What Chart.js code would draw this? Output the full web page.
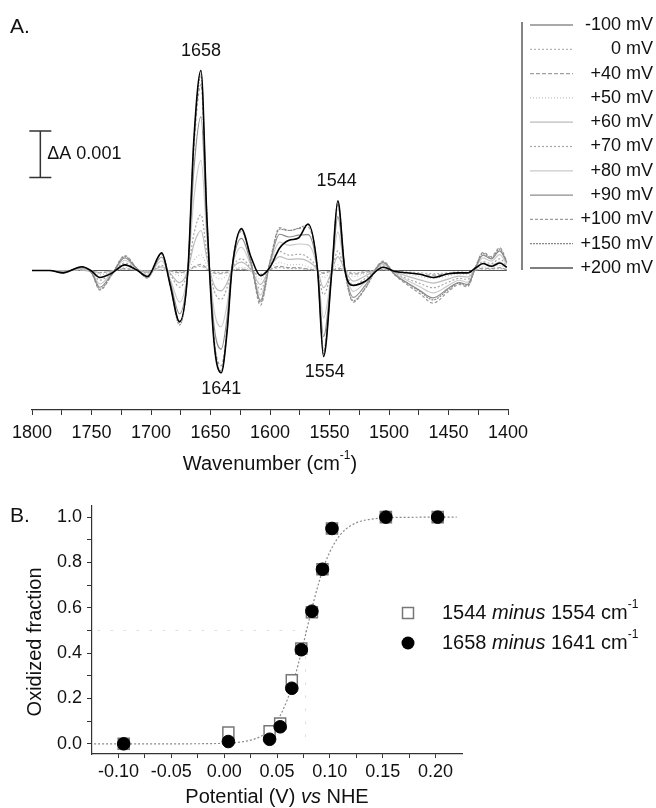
<!DOCTYPE html>
<html>
<head>
<meta charset="utf-8">
<title>Redox titration FTIR</title>
<script src="https://cdn.jsdelivr.net/npm/chart.js@4.4.1/dist/chart.umd.min.js"></script>
<style>
  body { margin: 0; background: #fff; }
  #page { position: relative; width: 656px; height: 808px; }
  #page canvas { position: absolute; left: 0; }
</style>
</head>
<body>
<div id="page">
  <canvas id="spectra" width="656" height="480" style="top:0;width:656px;height:480px"></canvas>
  <canvas id="titration" width="656" height="318" style="top:490px;width:656px;height:318px"></canvas>
</div>
<script>
// ---- Panel A: redox difference spectra, ΔA in units of 0.001 ----
const wavenumbers = [1800, 1785, 1774, 1758, 1750, 1743, 1733, 1722, 1712, 1703,
                     1691, 1684, 1676, 1669, 1664, 1658, 1653, 1647, 1641, 1636,
                     1632, 1624, 1616, 1608, 1600, 1592, 1584, 1576, 1568, 1560,
                     1555, 1548, 1543, 1537, 1530, 1520, 1505, 1495, 1485, 1474,
                     1463, 1450, 1441, 1434, 1427, 1421, 1414, 1407, 1401];
const potentialLabels = ['-100 mV', '0 mV', '+40 mV', '+50 mV', '+60 mV', '+70 mV',
                         '+80 mV', '+90 mV', '+100 mV', '+150 mV', '+200 mV'];

const dA_m100 = [0, 0, 0, 0, 0, 0, 0, 0, 0, 0,
                 0, 0, 0, 0, 0, 0, 0, 0, 0, 0,
                 0, 0, 0, 0, 0, 0, 0, 0, 0, 0,
                 0, 0, 0, 0, 0, 0, 0, 0, 0, 0,
                 0, 0, 0, 0, 0, 0, 0, 0, 0];
const dA_0 = [0, 0, 0, 0, -0.01, -0.04, -0.01, 0.03, 0.01, -0.01,
              0.01, -0.01, -0.03, 0, 0.06, 0.09, 0.03, -0.03, -0.04, -0.03,
              0.01, 0.02, 0, -0.08, 0.02, 0.06, 0.04, 0.04, 0.02, 0,
              -0.04, 0, 0.03, 0, -0.05, -0.02, 0.02, -0.01, -0.03, -0.05,
              -0.07, -0.05, -0.03, -0.04, 0.01, 0.03, 0.03, 0.04, 0.02];
const dA_40 = [0, 0, 0, 0, -0.01, -0.05, -0.01, 0.04, 0.01, -0.01,
               0.01, -0.01, -0.05, 0, 0.08, 0.13, 0.05, -0.05, -0.07, -0.04,
               0.01, 0.03, -0.01, -0.11, 0.02, 0.09, 0.06, 0.06, 0.03, 0,
               -0.06, 0, 0.05, 0, -0.08, -0.04, 0.02, -0.02, -0.05, -0.08,
               -0.1, -0.07, -0.05, -0.05, 0.01, 0.05, 0.04, 0.06, 0.02];
const dA_50 = [0, 0, 0, 0.01, -0.01, -0.09, -0.02, 0.07, 0.01, -0.02,
               0.03, -0.02, -0.11, 0, 0.22, 0.34, 0.11, -0.12, -0.18, -0.1,
               0.01, 0.07, 0, -0.19, 0.04, 0.17, 0.12, 0.13, 0.08, 0,
               -0.15, 0, 0.12, 0, -0.13, -0.07, 0.04, -0.03, -0.08, -0.13,
               -0.17, -0.11, -0.08, -0.09, 0.02, 0.08, 0.07, 0.11, 0.04];
const dA_60 = [0, 0, -0.01, 0.02, -0.02, -0.15, -0.03, 0.12, 0.02, -0.04,
               0.08, -0.06, -0.26, 0, 0.56, 0.86, 0.26, -0.31, -0.44, -0.26,
               0.02, 0.18, 0.02, -0.3, 0.07, 0.3, 0.24, 0.25, 0.2, 0,
               -0.37, 0, 0.3, 0, -0.23, -0.12, 0.07, -0.04, -0.12, -0.2,
               -0.27, -0.18, -0.12, -0.14, 0.03, 0.14, 0.11, 0.18, 0.07];
const dA_70 = [0, 0, -0.01, 0.02, -0.03, -0.21, -0.04, 0.16, 0.03, -0.06,
               0.11, -0.08, -0.36, 0, 0.78, 1.2, 0.36, -0.43, -0.62, -0.36,
               0.03, 0.25, 0.03, -0.41, 0.1, 0.41, 0.33, 0.35, 0.28, 0,
               -0.52, 0, 0.42, 0, -0.32, -0.17, 0.1, -0.06, -0.17, -0.28,
               -0.37, -0.25, -0.17, -0.19, 0.04, 0.19, 0.15, 0.25, 0.1];
const dA_80 = [0, 0, -0.03, 0.04, -0.04, -0.29, -0.06, 0.22, 0.04, -0.1,
               0.21, -0.17, -0.68, 0, 1.54, 2.37, 0.68, -0.85, -1.21, -0.72,
               0.04, 0.5, 0.1, -0.53, 0.13, 0.61, 0.54, 0.57, 0.55, 0,
               -1.02, 0, 0.83, 0, -0.45, -0.25, 0.13, -0.07, -0.21, -0.35,
               -0.48, -0.32, -0.21, -0.25, 0.06, 0.27, 0.2, 0.34, 0.13];
const dA_90 = [0, 0, -0.04, 0.06, -0.04, -0.36, -0.08, 0.27, 0.04, -0.13,
               0.29, -0.23, -0.93, 0, 2.16, 3.31, 0.93, -1.19, -1.69, -1.0,
               0.04, 0.69, 0.15, -0.64, 0.17, 0.78, 0.72, 0.76, 0.77, 0,
               -1.42, 0, 1.16, 0, -0.58, -0.32, 0.17, -0.09, -0.26, -0.43,
               -0.59, -0.38, -0.26, -0.3, 0.08, 0.33, 0.25, 0.42, 0.17];
const dA_100 = [0, 0, -0.05, 0.07, -0.05, -0.42, -0.1, 0.32, 0.05, -0.16,
                0.35, -0.28, -1.12, 0, 2.6, 4.0, 1.12, -1.44, -2.05, -1.21,
                0.05, 0.84, 0.18, -0.75, 0.2, 0.92, 0.86, 0.9, 0.93, 0,
                -1.72, 0, 1.4, 0, -0.68, -0.39, 0.2, -0.1, -0.3, -0.5,
                -0.7, -0.45, -0.3, -0.35, 0.1, 0.39, 0.3, 0.49, 0.2];
const dA_150 = [0, 0, -0.05, 0.08, -0.05, -0.4, -0.09, 0.3, 0.05, -0.16,
                0.37, -0.29, -1.17, 0, 2.74, 4.21, 1.17, -1.52, -2.16, -1.27,
                0.05, 0.88, 0.2, -0.68, 0.18, 0.89, 0.86, 0.91, 0.98, 0,
                -1.81, 0, 1.47, 0, -0.65, -0.38, 0.18, -0.09, -0.27, -0.45,
                -0.63, -0.41, -0.27, -0.32, 0.09, 0.37, 0.27, 0.46, 0.18];
const dA_200 = [0, 0, -0.05, 0.08, -0.01, -0.15, -0.06, 0.12, 0.01, -0.13,
                0.38, -0.3, -1.1, 0, 2.8, 4.3, 1.12, -1.55, -2.2, -1.3,
                0.01, 0.9, 0.29, -0.11, 0.07, 0.48, 0.65, 0.7, 1.0, 0,
                -1.85, 0, 1.5, 0, -0.32, -0.23, 0.07, -0.02, -0.05, -0.08,
                -0.15, -0.07, -0.05, -0.05, 0.06, 0.15, 0.09, 0.16, 0.07];

const peakLabels = [1658, 1641, 1554, 1544];
const scaleBarAt = 1793;          // cm-1
const scaleBarFrom = 2;           // x 0.001
const scaleBarSize = 1;           // = 0.001 absorbance
const wavenumberTicks = [1800, 1750, 1700, 1650, 1600, 1550, 1500, 1450, 1400];
const wavenumberMinorTicks = [1775, 1725, 1675, 1625, 1575, 1525, 1475, 1425];

// ---- Panel B: oxidized fraction vs potential ----
const potentialV = [-0.095, 0.004, 0.043, 0.053, 0.064, 0.073, 0.083, 0.093, 0.102, 0.153, 0.202];
const frac1658 = [0.0, 0.01, 0.02, 0.075, 0.245, 0.415, 0.585, 0.77, 0.95, 1.0, 1.0];
const frac1544 = [0.0, 0.05, 0.055, 0.09, 0.28, 0.42, 0.58, 0.77, 0.95, 1.0, 1.0];
const fitPotential = [-0.123, -0.05, 0, 0.02, 0.03, 0.04, 0.05, 0.055, 0.06, 0.065, 0.07, 0.075,
                      0.08, 0.085, 0.09, 0.095, 0.10, 0.11, 0.12, 0.13, 0.15, 0.17, 0.22];
const fitFraction = [0, 0, 0.002, 0.011, 0.023, 0.049, 0.10, 0.143, 0.198, 0.267, 0.349, 0.442,
                     0.539, 0.633, 0.718, 0.79, 0.847, 0.923, 0.963, 0.983, 0.996, 0.999, 1.0];
const midGuideX = [-0.12, 0.077, 0.077];
const midGuideY = [0.5, 0.5, 0];
const potentialTicks = [-0.10, -0.05, 0.00, 0.05, 0.10, 0.15, 0.20];
const potentialMinorTicks = [-0.075, -0.025, 0.025, 0.075, 0.125, 0.175];
const fractionTicks = [0.0, 0.2, 0.4, 0.6, 0.8, 1.0];
const fractionMinorTicks = [0.1, 0.3, 0.5, 0.7, 0.9];

// styles
const FONT = "'Liberation Sans', Arial, sans-serif";
const INK = '#111';
const spectra = [dA_m100, dA_0, dA_40, dA_50, dA_60, dA_70, dA_80, dA_90, dA_100, dA_150, dA_200];
const lineColors = ['#555', '#b4b4b4', '#a0a0a0', '#c4c4c4', '#bcbcbc', '#a6a6a6',
                    '#cacaca', '#8c8c8c', '#9c9c9c', '#888', '#000'];
const lineDashes = [[], [2, 2], [4, 2], [1, 2], [], [2, 2], [], [], [3, 2], [2, 1], []];

// draw a run of text pieces with their own fonts / vertical shift
function drawParts(ctx, parts, x, y, align) {
  let w = 0;
  parts.forEach(p => { ctx.font = p[1]; w += ctx.measureText(p[0]).width; });
  let cx = align === 'center' ? x - w / 2 : x;
  ctx.textAlign = 'left';
  parts.forEach(p => {
    ctx.font = p[1];
    ctx.fillText(p[0], cx, y + (p[2] || 0));
    cx += ctx.measureText(p[0]).width;
  });
}

function withTicks(major, minor) {
  return scale => {
    scale.ticks = major.concat(minor).sort((a, b) => a - b).map(v => ({ value: v }));
  };
}

const annotateSpectra = {
  id: 'annotateSpectra',
  afterDraw(chart) {
    const { ctx, scales: { x, y } } = chart;
    ctx.save();
    ctx.fillStyle = INK;
    ctx.strokeStyle = '#333';
    ctx.textBaseline = 'middle';

    ctx.font = `21px ${FONT}`;
    ctx.textAlign = 'left';
    ctx.fillText('A.', 10, 27);

    // peak positions
    ctx.font = `18px ${FONT}`;
    ctx.textAlign = 'center';
    peakLabels.forEach(wn => {
      let j = 0;
      wavenumbers.forEach((w, i) => { if (Math.abs(w - wn) < Math.abs(wavenumbers[j] - wn)) j = i; });
      const v = dA_200[j];
      const py = y.getPixelForValue(v);
      ctx.fillText(String(wn), x.getPixelForValue(wn), v > 0 ? py - 20 : py + 16);
    });

    // ΔA scale bar
    const bx = x.getPixelForValue(scaleBarAt);
    const b0 = y.getPixelForValue(scaleBarFrom);
    const b1 = y.getPixelForValue(scaleBarFrom + scaleBarSize);
    ctx.lineWidth = 1.5;
    ctx.beginPath();
    ctx.moveTo(bx, b0); ctx.lineTo(bx, b1);
    ctx.moveTo(bx - 11, b0); ctx.lineTo(bx + 11, b0);
    ctx.moveTo(bx - 11, b1); ctx.lineTo(bx + 11, b1);
    ctx.stroke();
    ctx.textAlign = 'left';
    ctx.fillText('\u0394A 0.001', bx + 7, (b0 + b1) / 2);

    // legend
    const rowTop = 25, rowGap = 24.3;
    ctx.lineWidth = 1.2;
    ctx.beginPath();
    ctx.moveTo(522, rowTop - 3); ctx.lineTo(522, rowTop + rowGap * (potentialLabels.length - 1) + 2);
    ctx.stroke();
    potentialLabels.forEach((lab, i) => {
      const ly = rowTop + i * rowGap;
      ctx.save();
      ctx.strokeStyle = lineColors[i];
      ctx.setLineDash(lineDashes[i]);
      ctx.beginPath(); ctx.moveTo(530, ly); ctx.lineTo(573, ly); ctx.stroke();
      ctx.restore();
      ctx.font = `18px ${FONT}`;
      ctx.textAlign = 'right';
      ctx.fillText(lab, 653, ly);
    });

    // axis title
    drawParts(ctx, [['Wavenumber (cm', `20px ${FONT}`], ['-1', `12px ${FONT}`, -8], [')', `20px ${FONT}`]],
      (chart.chartArea.left + chart.chartArea.right) / 2, 464, 'center');
    ctx.restore();
  }
};

new Chart(document.getElementById('spectra'), {
  type: 'line',
  data: {
    datasets: spectra.map((vals, i) => ({
      label: potentialLabels[i],
      data: wavenumbers.map((w, j) => ({ x: w, y: vals[j] })),
      borderColor: lineColors[i],
      borderDash: lineDashes[i],
      borderWidth: i === spectra.length - 1 ? 1.6 : 1.2,
      pointRadius: 0,
      cubicInterpolationMode: 'monotone',
      fill: false,
      order: spectra.length - 1 - i
    }))
  },
  options: {
    responsive: false,
    animation: false,
    devicePixelRatio: 1,
    layout: { padding: { left: 32, right: 148, top: 38, bottom: 0 } },
    plugins: { legend: { display: false }, tooltip: { enabled: false } },
    scales: {
      x: {
        type: 'linear', reverse: true, min: 1400, max: 1800,
        afterBuildTicks: withTicks(wavenumberTicks, wavenumberMinorTicks),
        afterFit: s => { s.height = 70; },
        grid: { display: true, drawOnChartArea: false, drawTicks: true, tickLength: 5, color: '#333' },
        border: { display: true, color: '#333', width: 1.2 },
        ticks: {
          color: INK, padding: 7, maxRotation: 0, autoSkip: false,
          font: { family: FONT, size: 18 },
          callback: v => wavenumberTicks.includes(v) ? String(v) : ''
        }
      },
      y: { display: false, min: -3, max: 5 }
    }
  },
  plugins: [annotateSpectra]
});

const annotateTitration = {
  id: 'annotateTitration',
  afterDraw(chart) {
    const { ctx, chartArea } = chart;
    ctx.save();
    ctx.fillStyle = INK;
    ctx.textBaseline = 'middle';

    ctx.font = `21px ${FONT}`;
    ctx.textAlign = 'left';
    ctx.fillText('B.', 10, 26);

    // y title
    ctx.save();
    ctx.translate(35, (chartArea.top + chartArea.bottom) / 2 + 12);
    ctx.rotate(-Math.PI / 2);
    ctx.font = `20px ${FONT}`;
    ctx.textAlign = 'center';
    ctx.fillText('Oxidized fraction', 0, 0);
    ctx.restore();

    // x title
    drawParts(ctx, [['Potential (V) ', `20px ${FONT}`], ['vs', `italic 20px ${FONT}`], [' NHE', `20px ${FONT}`]],
      (chartArea.left + chartArea.right) / 2, 307, 'center');

    // legend
    const lx = 408, rows = [123, 153];
    ctx.fillStyle = '#fff';
    ctx.strokeStyle = '#777';
    ctx.lineWidth = 1.5;
    ctx.fillRect(lx - 5.5, rows[0] - 5.5, 11, 11);
    ctx.strokeRect(lx - 5.5, rows[0] - 5.5, 11, 11);
    ctx.fillStyle = '#000';
    ctx.beginPath(); ctx.arc(lx, rows[1], 6.5, 0, Math.PI * 2); ctx.fill();
    ctx.fillStyle = INK;
    drawParts(ctx, [['1544 ', `20px ${FONT}`], ['minus', `italic 20px ${FONT}`], [' 1554 cm', `20px ${FONT}`],
      ['-1', `12px ${FONT}`, -8]], 442, rows[0], 'left');
    drawParts(ctx, [['1658 ', `20px ${FONT}`], ['minus', `italic 20px ${FONT}`], [' 1641 cm', `20px ${FONT}`],
      ['-1', `12px ${FONT}`, -8]], 442, rows[1], 'left');
    ctx.restore();
  }
};

new Chart(document.getElementById('titration'), {
  type: 'scatter',
  data: {
    datasets: [
      {
        label: '1658 minus 1641 cm-1',
        data: potentialV.map((v, i) => ({ x: v, y: frac1658[i] })),
        pointStyle: 'circle', pointRadius: 6.3,
        pointBackgroundColor: '#000', pointBorderColor: '#000', order: 0
      },
      {
        label: '1544 minus 1554 cm-1',
        data: potentialV.map((v, i) => ({ x: v, y: frac1544[i] })),
        pointStyle: 'rect', pointRadius: 7.8,
        pointBackgroundColor: '#fff', pointBorderColor: '#777', pointBorderWidth: 1.5, order: 1
      },
      {
        label: 'Nernst fit',
        data: fitPotential.map((v, i) => ({ x: v, y: fitFraction[i] })),
        showLine: true, pointRadius: 0, borderColor: '#8a8a8a', borderWidth: 1.2,
        borderDash: [2, 2], cubicInterpolationMode: 'monotone', order: 2
      },
      {
        label: 'midpoint',
        data: midGuideX.map((v, i) => ({ x: v, y: midGuideY[i] })),
        showLine: true, pointRadius: 0, borderColor: '#e0e0e0', borderWidth: 1,
        borderDash: [3, 10], order: 3
      }
    ]
  },
  options: {
    responsive: false,
    animation: false,
    devicePixelRatio: 1,
    layout: { padding: { left: 0, right: 194, top: 15, bottom: 0 } },
    plugins: { legend: { display: false }, tooltip: { enabled: false } },
    scales: {
      x: {
        type: 'linear', min: -0.125, max: 0.225,
        afterBuildTicks: withTicks(potentialTicks, potentialMinorTicks),
        afterFit: s => { s.height = 54; },
        grid: { display: true, drawOnChartArea: false, drawTicks: true, tickLength: 4, color: '#333' },
        border: { display: true, color: '#333', width: 1.2 },
        ticks: {
          color: INK, padding: 3, maxRotation: 0, autoSkip: false,
          font: { family: FONT, size: 18 },
          callback: v => potentialTicks.includes(v) ? v.toFixed(2) : ''
        }
      },
      y: {
        type: 'linear', min: -0.045, max: 1.05,
        afterBuildTicks: withTicks(fractionTicks, fractionMinorTicks),
        afterFit: s => { s.width = 92; },
        grid: { display: true, drawOnChartArea: false, drawTicks: true, tickLength: 5, color: '#333' },
        border: { display: true, color: '#333', width: 1.2 },
        ticks: {
          color: INK, padding: 5, autoSkip: false,
          font: { family: FONT, size: 18 },
          callback: v => fractionTicks.includes(v) ? v.toFixed(1) : ''
        }
      }
    }
  },
  plugins: [annotateTitration]
});
</script>
</body>
</html>
